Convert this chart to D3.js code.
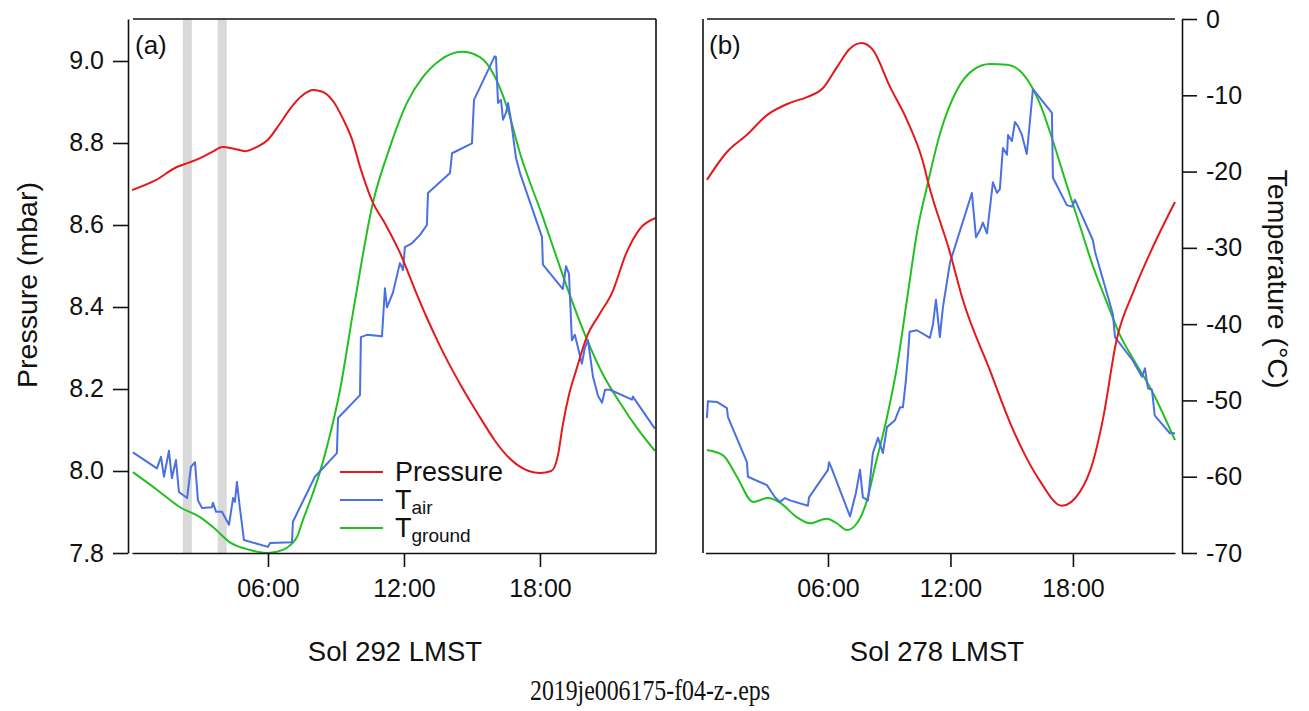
<!DOCTYPE html>
<html>
<head>
<meta charset="utf-8">
<script src="https://cdn.jsdelivr.net/npm/d3@7"></script>
<style>
  body { margin: 0; background: #fff; }
  text { font-family: "Liberation Sans", Arial, Helvetica, sans-serif; fill: #111; }
</style>
</head>
<body>
<script>
// tick values
var hourTicks = [6, 12, 18];
var hourLabels = ["06:00", "12:00", "18:00"];
var pressureTicks = [7.8, 8.0, 8.2, 8.4, 8.6, 8.8, 9.0];
var tempTicks = [0, -10, -20, -30, -40, -50, -60, -70];

// sol 292, [hour LMST, mbar] / [hour, degC]
var sol292Pressure = [[0,8.685],[1,8.708],[2,8.742],[2.5,8.752],[3,8.763],[3.5,8.777],[4,8.79],[4.5,8.786],
  [5,8.78],[5.5,8.79],[6,8.808],[6.5,8.845],[7,8.885],[7.5,8.915],[8,8.929],[8.4,8.925],[8.9,8.9],[9.3,8.86],
  [9.7,8.81],[10.1,8.735],[10.6,8.658],[11.2,8.6],[11.8,8.535],[12.5,8.44],[13,8.375],[13.5,8.315],[14,8.26],
  [14.5,8.21],[15,8.163],[15.5,8.118],[16,8.075],[16.5,8.04],[17,8.015],[17.5,8.0],[18,7.995],[18.5,8.0],
  [18.8,8.04],[19.0,8.11],[19.3,8.19],[19.6,8.246],[20.1,8.332],[20.6,8.38],[21.2,8.437],[21.8,8.53],
  [22.4,8.59],[23.1,8.617]];
var sol292Tair = [[0.04,-56.8],[1.1,-58.9],[1.28,-57.4],[1.41,-60.0],[1.63,-56.6],[1.76,-60.2],[1.94,-57.8],
  [2.07,-62.0],[2.43,-62.8],[2.6,-58.7],[2.78,-58.1],[2.91,-63.1],[3.09,-64.1],[3.53,-64.0],[3.57,-63.4],
  [3.71,-64.6],[3.97,-64.6],[4.28,-66.3],[4.46,-62.8],[4.54,-63.3],[4.63,-60.7],[4.76,-64.1],[4.94,-68.3],
  [6.0,-69.2],[6.09,-68.7],[7.06,-68.6],[7.1,-65.9],[8.07,-60.0],[9.04,-56.9],[9.09,-52.3],[10.06,-49.3],
  [10.1,-41.7],[10.37,-41.4],[11.03,-41.6],[11.16,-35.3],[11.25,-37.8],[11.51,-35.9],[11.82,-32.0],
  [11.96,-32.9],[12.04,-29.9],[12.35,-29.4],[12.71,-28.3],[13.01,-27.0],[13.06,-22.8],[14.03,-20.2],
  [14.12,-17.6],[15.0,-16.3],[15.09,-10.6],[16.0,-4.9],[16.06,-5.0],[16.15,-11.0],[16.28,-10.6],
  [16.37,-13.2],[16.5,-12.3],[16.59,-11.0],[16.72,-13.2],[16.94,-18.2],[17.12,-20.2],[18.09,-28.6],
  [18.13,-32.2],[19.01,-35.4],[19.15,-32.4],[19.28,-33.4],[19.41,-42.1],[19.54,-41.4],[19.85,-45.2],
  [19.98,-43.1],[20.12,-42.1],[20.34,-46.9],[20.56,-49.4],[20.74,-50.3],[20.87,-48.6],[21.09,-48.6],
  [22.06,-49.9],[22.1,-49.5],[23.07,-53.7]];
var sol292Tground = [[0.04,-59.4],[1.1,-61.7],[2.12,-64.0],[3.0,-65.3],[3.57,-66.6],[4.32,-68.6],[5.2,-69.6],
  [6.0,-70.0],[6.66,-69.6],[6.97,-69.0],[7.28,-67.9],[7.54,-65.7],[7.99,-62.1],[8.29,-59.4],[8.6,-56.1],
  [9.18,-48.6],[9.75,-38.5],[10.63,-24.1],[11.38,-16.8],[12.13,-11.0],[12.84,-7.6],[13.59,-5.4],[14.56,-4.3],
  [15.35,-5.0],[15.93,-7.1],[16.54,-11.5],[17.12,-17.6],[18.13,-26.0],[18.88,-32.5],[19.32,-36.2],
  [20.07,-42.0],[20.78,-46.6],[21.53,-50.3],[22.28,-53.6],[23.07,-56.6]];

// sol 278
var sol278Pressure = [[0.07,8.71],[1.05,8.778],[2.03,8.82],[3.01,8.868],[4.14,8.898],[4.97,8.912],[5.76,8.934],
  [6.44,8.985],[7.07,9.03],[7.66,9.044],[8.2,9.027],[9.04,8.937],[9.87,8.856],[10.67,8.751],[10.9,8.705],
  [11.98,8.532],[12.61,8.417],[13.93,8.246],[14.9,8.12],[15.55,8.049],[16.38,7.976],[17.46,7.915],
  [18.34,7.949],[18.98,8.022],[19.48,8.129],[20.14,8.32],[20.96,8.437],[21.8,8.534],[23.0,8.656]];
var sol278Tair = [[0.07,-52.3],[0.12,-50.1],[0.56,-50.2],[1.05,-51.0],[1.1,-52.2],[2.03,-58.1],[2.08,-60.0],
  [3.01,-61.1],[3.4,-62.7],[3.65,-63.3],[3.89,-62.8],[4.14,-63.1],[5.02,-63.8],[5.07,-62.7],[6.0,-59.1],
  [6.05,-58.1],[6.15,-58.7],[7.08,-65.2],[7.37,-62.1],[7.57,-59.1],[7.71,-62.7],[7.96,-63.1],[8.2,-56.9],
  [8.45,-54.9],[8.69,-56.9],[8.89,-53.5],[9.28,-52.6],[9.38,-51.9],[9.53,-50.9],[9.67,-50.9],[9.82,-47.3],
  [9.91,-44.4],[10.0,-41.0],[10.36,-40.8],[10.99,-41.8],[11.14,-40.1],[11.29,-36.8],[11.48,-41.7],
  [11.63,-37.8],[11.98,-31.9],[13.05,-22.8],[13.25,-28.6],[13.44,-27.7],[13.59,-26.7],[13.79,-28.1],
  [14.08,-21.4],[14.28,-22.8],[14.42,-22.3],[14.57,-16.9],[14.77,-17.8],[14.82,-15.2],[15.01,-16.0],
  [15.16,-13.5],[15.3,-14.0],[15.5,-15.2],[15.74,-17.7],[15.89,-13.5],[16.04,-9.2],[16.97,-12.3],
  [17.02,-20.8],[17.7,-24.4],[17.95,-24.6],[18.1,-23.7],[18.98,-29.0],[19.08,-30.5],[19.96,-38.7],
  [20.06,-41.7],[20.94,-44.8],[21.38,-46.9],[21.53,-45.8],[21.67,-48.4],[21.87,-48.6],[22.01,-52.0],
  [22.75,-54.3],[23.0,-54.3]];
var sol278Tground = [[0.07,-56.5],[0.86,-57.2],[1.54,-60.0],[2.33,-63.3],[3.06,-62.8],[3.65,-63.4],[4.47,-65.3],
  [5.12,-66.1],[5.94,-65.5],[6.43,-66.1],[6.93,-67.0],[7.42,-66.1],[7.91,-63.1],[8.3,-58.7],[8.89,-52.2],
  [9.38,-45.6],[9.87,-36.8],[10.36,-28.0],[10.9,-21.4],[11.49,-15.0],[12.32,-9.3],[13.1,-6.7],[13.94,-5.9],
  [14.77,-6.0],[15.55,-7.2],[16.38,-11.1],[17.02,-16.0],[17.7,-21.8],[18.34,-27.1],[18.98,-32.4],
  [19.67,-37.2],[20.3,-41.4],[20.96,-44.6],[21.8,-48.4],[23.0,-55.2]];

// shaded intervals on sol 292 (hours)
var sol292Bands = [[2.24, 2.64], [3.78, 4.18]];

var legendNames = ["Pressure", "T", "T"];
var legendSubs = ["", "air", "ground"];

var red = "#e3191c", blue = "#4a70e2", green = "#22c020";

var svg = d3.select("body").append("svg")
      .attr("width", 1309)
      .attr("height", 711);

var xA = d3.scaleLinear().domain([0, 23.12]).range([132, 656]);
var xB = d3.scaleLinear().domain([0, 23.0]).range([705.5, 1175]);
var yP = d3.scaleLinear().domain([7.8, 9.1024]).range([553, 19]);
var yT = d3.scaleLinear().domain([-70, 0]).range([553, 19]);

// gray bands
svg.selectAll("rect.band")
    .data(sol292Bands)
    .enter().append("rect")
      .attr("class", "band")
      .attr("x", function(d){ return xA(d[0]); })
      .attr("width", function(d){ return xA(d[1]) - xA(d[0]); })
      .attr("y", 19)
      .attr("height", 534)
      .attr("fill", "#d9d9d9");

function drawLine(data, x, y, color, curve) {
  var line = d3.line()
      .x(function(d){ return x(d[0]); })
      .y(function(d){ return y(d[1]); })
      .curve(curve);
  svg.append("path")
      .datum(data)
      .attr("d", line)
      .attr("fill", "none")
      .attr("stroke", color)
      .attr("stroke-width", 2)
      .attr("stroke-linejoin", "round");
}

drawLine(sol292Tground, xA, yT, green, d3.curveMonotoneX);
drawLine(sol292Tair, xA, yT, blue, d3.curveLinear);
drawLine(sol292Pressure, xA, yP, red, d3.curveMonotoneX);

drawLine(sol278Tground, xB, yT, green, d3.curveMonotoneX);
drawLine(sol278Tair, xB, yT, blue, d3.curveLinear);
drawLine(sol278Pressure, xB, yP, red, d3.curveMonotoneX);

// axes
function styleAxis(g) {
  g.selectAll("path, line").attr("stroke", "#111").attr("stroke-width", 1.6);
  g.selectAll("text").attr("font-size", 25).attr("font-family", null).attr("fill", "#111");
}

svg.append("g")
    .attr("transform", "translate(128,0)")
    .call(d3.axisLeft(yP).tickValues(pressureTicks).tickFormat(d3.format(".1f"))
          .tickSize(15).tickSizeOuter(0).tickPadding(9))
    .call(styleAxis);

svg.append("g")
    .attr("transform", "translate(1182,0)")
    .call(d3.axisRight(yT).tickValues(tempTicks).tickFormat(function(d){ return String(d); })
          .tickSize(15).tickSizeOuter(0).tickPadding(9))
    .call(styleAxis);

[xA, xB].forEach(function(x){
  svg.append("g")
      .attr("transform", "translate(0,553)")
      .call(d3.axisBottom(x).tickValues(hourTicks)
            .tickFormat(function(d, i){ return hourLabels[i]; })
            .tickSize(14).tickSizeOuter(0).tickPadding(12))
      .call(styleAxis);
});

// frame lines
var frame = [
  [133, 19, 656, 19], [656, 19, 656, 553],
  [707, 19, 1175, 19], [703, 19, 703, 553]
];
svg.selectAll("line.frame")
    .data(frame)
    .enter().append("line")
      .attr("class", "frame")
      .attr("x1", function(d){ return d[0]; })
      .attr("y1", function(d){ return d[1]; })
      .attr("x2", function(d){ return d[2]; })
      .attr("y2", function(d){ return d[3]; })
      .attr("stroke", "#111")
      .attr("stroke-width", 1.6);

// panel tags
svg.append("text").attr("x", 135).attr("y", 54).attr("font-size", 26).text("(a)");
svg.append("text").attr("x", 709).attr("y", 54).attr("font-size", 26).text("(b)");

// legend
var legendColors = [red, blue, green];
var leg = svg.selectAll("g.legend")
    .data(legendNames)
    .enter().append("g")
      .attr("class", "legend")
      .attr("transform", function(d, i){ return "translate(340," + (472 + i * 28) + ")"; });
leg.append("line")
    .attr("x1", 0).attr("x2", 43)
    .attr("stroke", function(d, i){ return legendColors[i]; })
    .attr("stroke-width", 2);
var legText = leg.append("text")
    .attr("x", 55).attr("y", 9)
    .attr("font-size", 27);
legText.append("tspan").text(function(d){ return d; });
legText.append("tspan")
    .attr("dy", 5)
    .attr("font-size", 19)
    .text(function(d, i){ return legendSubs[i]; });

// axis titles
svg.append("text")
    .attr("transform", "translate(37,285) rotate(-90)")
    .attr("text-anchor", "middle")
    .attr("font-size", 28.5)
    .text("Pressure (mbar)");
svg.append("text")
    .attr("transform", "translate(1268,279) rotate(90)")
    .attr("text-anchor", "middle")
    .attr("font-size", 28.5)
    .text("Temperature (°C)");

svg.append("text").attr("x", 395).attr("y", 661).attr("text-anchor", "middle")
    .attr("font-size", 27.5).text("Sol 292 LMST");
svg.append("text").attr("x", 937).attr("y", 661).attr("text-anchor", "middle")
    .attr("font-size", 27.5).text("Sol 278 LMST");

svg.append("text").attr("x", 650).attr("y", 700).attr("text-anchor", "middle")
    .style("font-family", "'Liberation Serif', 'Times New Roman', serif")
    .attr("font-size", 30)
    .attr("textLength", 240).attr("lengthAdjust", "spacingAndGlyphs")
    .text("2019je006175-f04-z-.eps");
</script>
</body>
</html>
